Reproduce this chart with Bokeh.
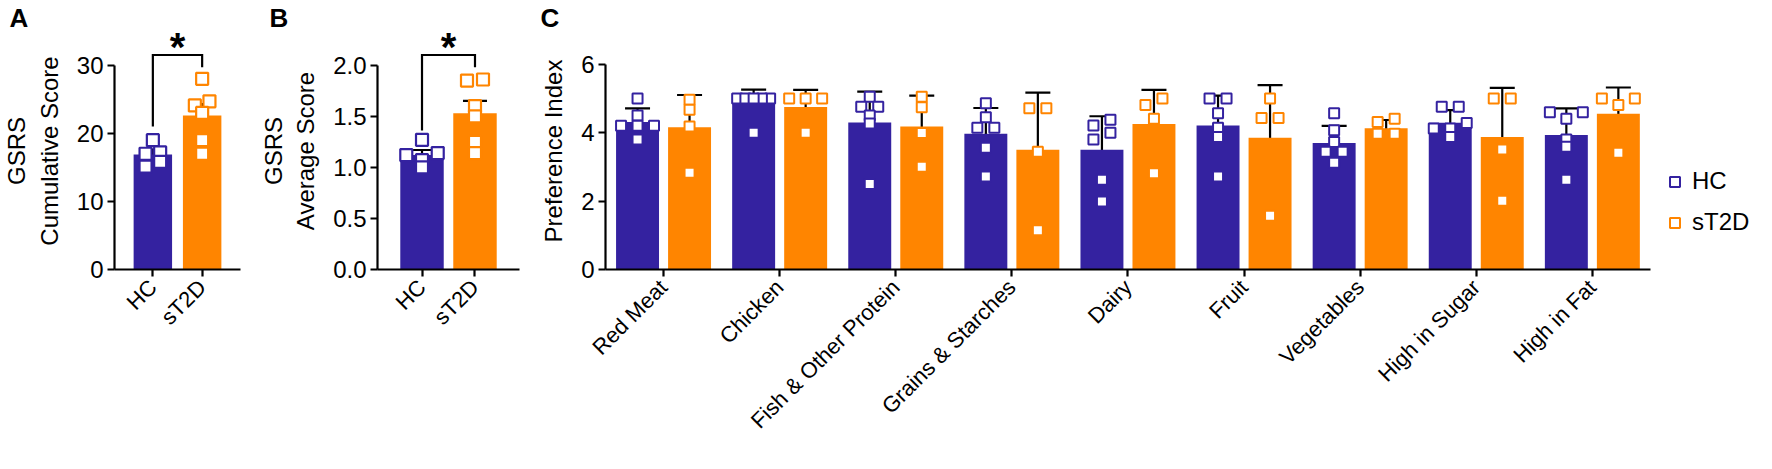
import math
from bokeh.plotting import figure
from bokeh.models import (FactorRange, Range1d, FixedTicker, Whisker, TeeHead, Title,
                          ColumnDataSource, Label, Legend, LegendItem, PrintfTickFormatter)
from bokeh.layouts import row
from bokeh.embed import file_html
from bokeh.resources import INLINE

FONT = "Liberation Sans"
HC_COLOR = "#3422A0"
T2D_COLOR = "#FF8500"

groups = ["HC", "sT2D"]

# ---- Panel A: GSRS cumulative score (mean +/- SEM) ----
cum_mean = [16.9, 22.6]
cum_sem = [0.7, 1.7]
cum_hc_points = [19.0, 17.2, 17.0, 15.8, 15.1]
cum_st2d_points = [28.0, 24.7, 24.1, 23.0, 19.0, 17.0]
cum_bracket = [21.0, 31.5, 29.7]
cum_star = 32.7

# ---- Panel B: GSRS average score (mean +/- SEM) ----
avg_mean = [1.12, 1.53]
avg_sem = [0.05, 0.12]
avg_hc_points = [1.27, 1.14, 1.12, 1.07, 1.0]
avg_st2d_points = [1.86, 1.85, 1.60, 1.50, 1.25, 1.14]
avg_bracket = [1.36, 2.10, 1.98]
avg_star = 2.18

# ---- Panel C: preference index (mean +/- SD) ----
categories = ["Red Meat", "Chicken", "Fish & Other Protein", "Grains & Starches",
              "Dairy", "Fruit", "Vegetables", "High in Sugar", "High in Fat"]
hc_mean = [4.31, 4.85, 4.30, 3.97, 3.50, 4.21, 3.70, 4.29, 3.93]
hc_sd = [0.40, 0.41, 0.90, 0.75, 0.98, 0.87, 0.50, 0.37, 0.78]
st2d_mean = [4.16, 4.75, 4.18, 3.50, 4.25, 3.85, 4.13, 3.87, 4.55]
st2d_sd = [0.94, 0.50, 0.90, 1.67, 1.00, 1.54, 0.24, 1.44, 0.77]
hc_points = [
    [5.0, 4.5, 4.2, 4.2, 4.2, 3.8],
    [5.0, 5.0, 5.0, 5.0, 5.0, 4.0],
    [5.05, 4.76, 4.76, 4.5, 4.27, 2.5],
    [4.86, 4.45, 4.14, 4.14, 3.56, 2.72],
    [4.38, 4.21, 4.0, 3.8, 2.62, 1.99],
    [5.0, 5.0, 4.57, 4.14, 3.87, 2.72],
    [4.57, 4.07, 3.73, 3.44, 3.44, 3.12],
    [4.76, 4.76, 4.28, 4.12, 4.12, 3.87],
    [4.6, 4.6, 4.41, 3.8, 3.59, 2.62],
]
st2d_points = [
    [4.96, 4.67, 4.18, 2.83],
    [5.0, 5.0, 5.0, 4.0],
    [5.05, 4.74, 3.99, 3.0],
    [4.71, 4.71, 3.44, 1.15],
    [5.0, 4.81, 4.41, 2.81],
    [5.0, 4.43, 4.43, 1.57],
    [4.41, 4.31, 3.97, 3.97],
    [5.0, 5.0, 3.51, 2.01],
    [5.0, 5.0, 4.81, 3.41],
]

H = 453
TOP = 30
BOTTOM = 184
FRAME_H = H - TOP - BOTTOM     # y=0 sits at page y 277


def swarm(vals, center, step, thr, max_span):
    order = sorted(vals, reverse=True)
    clusters = []
    for v in order:
        if clusters and clusters[-1][-1] - v < thr:
            clusters[-1].append(v)
        else:
            clusters.append([v])
    xs, ys = [], []
    for c in clusters:
        k = len(c)
        s = step if k == 1 else min(step, max_span / (k - 1))
        offs = [(j - (k - 1) / 2) * s for j in range(k)]
        offs.sort(key=lambda o: (-abs(o), -o))
        for v, o in zip(c, offs):
            xs.append(center + o)
            ys.append(v)
    return xs, ys


def style(p, yticks, ybounds):
    p.outline_line_color = None
    p.xgrid.grid_line_color = None
    p.ygrid.grid_line_color = None
    for ax in (p.xaxis[0], p.yaxis[0]):
        ax.axis_line_width = 2.2
        ax.axis_line_color = "black"
        ax.major_tick_line_width = 2.2
        ax.major_tick_line_color = "black"
        ax.major_tick_out = 7
        ax.major_tick_in = 0
        ax.minor_tick_line_color = None
        ax.major_label_text_font = FONT
        ax.major_label_text_color = "black"
        ax.axis_label_text_font = FONT
        ax.axis_label_text_font_style = "normal"
        ax.axis_label_text_font_size = "24px"
        ax.axis_label_text_color = "black"
    p.yaxis.ticker = FixedTicker(ticks=yticks)
    p.yaxis.bounds = ybounds
    p.yaxis.major_label_text_font_size = "24px"
    p.yaxis.major_label_standoff = 4
    p.yaxis.axis_label_standoff = 11
    p.xaxis.major_label_text_font_size = "22px"
    p.xaxis.major_label_orientation = math.pi / 4
    p.xaxis.major_label_standoff = 7


def panel_title(text, dx):
    return Title(text=text, align="left", offset=dx, standoff=0, text_font=FONT,
                 text_font_size="26px", text_font_style="bold", text_color="black")


def two_group_panel(width, left, right, pad, ytop, yticks, ylabel, means, sems,
                    pts_hc, pts_t2d, bracket, star, bar_w, msize, tag, tag_dx, fmt=None):
    p = figure(width=width, height=H, x_range=FactorRange(factors=groups, range_padding=pad),
               y_range=Range1d(0, ytop), output_backend="svg", toolbar_location=None,
               min_border_left=left, min_border_right=right,
               min_border_top=TOP, min_border_bottom=BOTTOM,
               title=panel_title(tag, tag_dx))
    style(p, yticks, (0, yticks[-1]))
    if fmt:
        p.yaxis.formatter = PrintfTickFormatter(format=fmt)
    p.yaxis.axis_label = ylabel
    src = ColumnDataSource(dict(g=groups, top=means,
                                upper=[m + s for m, s in zip(means, sems)],
                                lower=[m - s for m, s in zip(means, sems)],
                                color=[HC_COLOR, T2D_COLOR]))
    p.vbar(x="g", top="top", width=bar_w, source=src, fill_color="color", line_color=None)
    frame_w = width - left - right
    pxu = frame_w / (2 * (1 + pad))
    pyu = FRAME_H / ytop
    for i, (pts, col) in enumerate([(pts_hc, HC_COLOR), (pts_t2d, T2D_COLOR)]):
        xs, ys = swarm(pts, i + 0.5, 16 / pxu, 7 / pyu, (bar_w * pxu - msize) / pxu)
        p.scatter(xs, ys, marker="square", size=msize, fill_color="white",
                  line_color=col, line_width=2.2)
    p.add_layout(Whisker(base="g", upper="upper", lower="lower", source=src,
                         line_width=2.2, line_color="black",
                         upper_head=TeeHead(size=24, line_width=2.2, line_color="black"),
                         lower_head=TeeHead(size=24, line_width=2.2, line_color="black")))
    p.line(x=["HC", "HC", "sT2D", "sT2D"], y=[bracket[0], bracket[1], bracket[1], bracket[2]],
           line_width=2.2, line_color="black", line_join="miter")
    p.add_layout(Label(x=1.0, y=star, text="*", text_font=FONT, text_font_size="40px",
                       text_font_style="bold", text_align="center",
                       text_baseline="middle", text_color="black"))
    return p


pA = two_group_panel(254, 102, 14, 0.278, 30 * FRAME_H / 206, [0, 10, 20, 30],
                     "GSRS\nCumulative Score", cum_mean, cum_sem, cum_hc_points,
                     cum_st2d_points, cum_bracket, cum_star, 0.78, 12, "A", -105)
pB = two_group_panel(283, 123, 18, 0.34, 2.0 * FRAME_H / 206, [0, 0.5, 1.0, 1.5, 2.0],
                     "GSRS\nAverage Score", avg_mean, avg_sem, avg_hc_points,
                     avg_st2d_points, avg_bracket, avg_star, 0.82, 12, "B", -108, "%.1f")

# ---- Panel C (numeric axis, categories at 1..9, legend kept inside the frame) ----
WC, LC, RC = 1219, 68, 4
PXU_C = 116.1
n = len(categories)
frame_wC = WC - LC - RC
yC = 6 * FRAME_H / 207
pC = figure(width=WC, height=H, x_range=Range1d(0.5, 0.5 + frame_wC / PXU_C),
            y_range=Range1d(0, yC), output_backend="svg", toolbar_location=None,
            min_border_left=LC, min_border_right=RC, min_border_top=TOP,
            min_border_bottom=BOTTOM, title=panel_title("C", -65))
style(pC, [0, 2, 4, 6], (0, 6))
pos = list(range(1, n + 1))
pC.xaxis.ticker = FixedTicker(ticks=pos)
pC.xaxis.major_label_overrides = {k: c for k, c in zip(pos, categories)}
pC.xaxis.bounds = (0.5, n + 0.5)
pC.yaxis.axis_label = "Preference Index"
OFF = 0.224
BW = 0.37
srcC = ColumnDataSource(dict(
    hc=hc_mean, t2d=st2d_mean,
    hc_up=[m + s for m, s in zip(hc_mean, hc_sd)], hc_lo=[m - s for m, s in zip(hc_mean, hc_sd)],
    t2d_up=[m + s for m, s in zip(st2d_mean, st2d_sd)], t2d_lo=[m - s for m, s in zip(st2d_mean, st2d_sd)],
    hc_x=[x - OFF for x in pos], t2d_x=[x + OFF for x in pos],
))
pC.vbar(x="hc_x", top="hc", width=BW, source=srcC, fill_color=HC_COLOR, line_color=None)
pC.vbar(x="t2d_x", top="t2d", width=BW, source=srcC, fill_color=T2D_COLOR, line_color=None)
pyuC = FRAME_H / yC
MS = 10
renderers = []
for sign, pts_all, col in [(-1, hc_points, HC_COLOR), (1, st2d_points, T2D_COLOR)]:
    xs_all, ys_all = [], []
    for x0, pts in zip(pos, pts_all):
        xs, ys = swarm(pts, x0 + sign * OFF, 17 / PXU_C, 7 / pyuC, (BW * PXU_C - MS) / PXU_C)
        xs_all += xs
        ys_all += ys
    r = pC.scatter(xs_all, ys_all, marker="square", size=MS, fill_color="white",
                   line_color=col, line_width=2.0)
    renderers.append(r)
for xcol, up, lo in [("hc_x", "hc_up", "hc_lo"), ("t2d_x", "t2d_up", "t2d_lo")]:
    pC.add_layout(Whisker(base=xcol, upper=up, lower=lo, source=srcC,
                          line_width=2.2, line_color="black",
                          upper_head=TeeHead(size=25, line_width=2.2, line_color="black"),
                          lower_head=TeeHead(size=25, line_width=2.2, line_color="black")))
legend = Legend(items=[LegendItem(label="HC", renderers=[renderers[0]]),
                       LegendItem(label="sT2D", renderers=[renderers[1]])],
                location=(1057, 33), orientation="vertical", border_line_color=None,
                background_fill_alpha=0, label_text_font=FONT, label_text_font_size="24px",
                label_text_color="black", glyph_width=25, glyph_height=25,
                label_standoff=5, spacing=13, padding=0, margin=0)
pC.add_layout(legend)

layout = row(pA, pB, pC)
open("out.html", "w").write(file_html(layout, INLINE))
